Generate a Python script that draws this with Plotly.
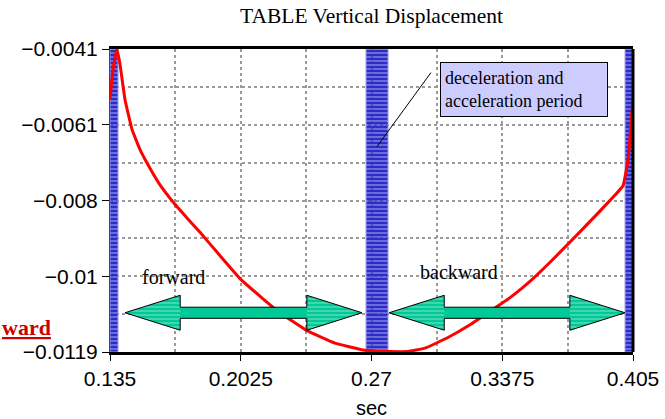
import plotly.graph_objects as go

# ---------------- data ----------------
x_range = [0.135, 0.405]
y_range = [-0.0119, -0.0041]
x_tickvals = [0.135, 0.2025, 0.27, 0.3375, 0.405]
x_ticktext = ["0.135", "0.2025", "0.27", "0.3375", "0.405"]
y_tickvals = [-0.0119, -0.00995, -0.008, -0.00605, -0.0041]
y_ticktext = ["\u22120.0119", "\u22120.01", "\u22120.008", "\u22120.0061", "\u22120.0041"]

time_s = [0.1350, 0.13655, 0.13861, 0.14016, 0.14274, 0.14636, 0.15049, 0.15462,
          0.16082, 0.16753, 0.17476, 0.18147, 0.19076, 0.20212, 0.21399, 0.22277,
          0.23671, 0.25117, 0.26562, 0.27285, 0.27956, 0.28834, 0.29763, 0.30899,
          0.32087, 0.33481, 0.34152, 0.35339, 0.36217, 0.37250, 0.38644, 0.39573,
          0.39986, 0.40244, 0.405]
displacement = [-0.00540, -0.00462, -0.00410, -0.00449, -0.00540, -0.00617, -0.00669, -0.00708,
                -0.00760, -0.00804, -0.00845, -0.00882, -0.00936, -0.01001, -0.01053, -0.01089,
                -0.01135, -0.01167, -0.01185, -0.01188, -0.01189, -0.01189, -0.01180, -0.01154,
                -0.01120, -0.01073, -0.01050, -0.01001, -0.00959, -0.00907, -0.00835, -0.00786,
                -0.00762, -0.00695, -0.00540]

# highlighted periods (start, end) in seconds
period_start = [0.1350, 0.26717, 0.40089]
period_end = [0.13913, 0.27853, 0.4050]

# motion arrows
forward_span = [0.14274, 0.26511]
backward_span = [0.27905, 0.40089]
arrow_level = -0.01089

forward_label = (0.16753, -0.00996)
backward_label = (0.31519, -0.00983)
callout_point = (0.27285, -0.00661)
callout_tail = (0.30125, -0.00467)
callout_box = (0.34875, -0.00514)

# ---------------- figure ----------------
fig = go.Figure()

fig.add_trace(go.Scatter(
    x=time_s, y=displacement, mode="lines",
    line=dict(color="#ff0000", width=3, shape="spline", smoothing=0.3),
    hoverinfo="skip", showlegend=False))

centers = [(a + b) / 2 for a, b in zip(period_start, period_end)]
widths = [b - a for a, b in zip(period_start, period_end)]
fig.add_trace(go.Bar(
    x=centers, width=widths,
    y=[y_range[1] - y_range[0]] * len(centers), base=[y_range[0]] * len(centers),
    marker=dict(color="rgba(0,0,0,0)",
                line=dict(color="#9a9af0", width=1),
                pattern=dict(shape="-", fgcolor="#2c2cc8", bgcolor="rgba(0,0,0,0)",
                             size=4, solidity=0.85, fillmode="replace")),
    hoverinfo="skip", showlegend=False))

HEAD_LEN = 0.0285
HEAD_HALF = 0.00045
BODY_HALF = 0.000143
GREEN = "#00c896"


def arrow_outline(x0, x1, yc):
    xs = [x0, x0 + HEAD_LEN, x0 + HEAD_LEN, x1 - HEAD_LEN, x1 - HEAD_LEN, x1,
          x1 - HEAD_LEN, x1 - HEAD_LEN, x0 + HEAD_LEN, x0 + HEAD_LEN, x0]
    ys = [yc, yc + HEAD_HALF, yc + BODY_HALF, yc + BODY_HALF, yc + HEAD_HALF, yc,
          yc - HEAD_HALF, yc - BODY_HALF, yc - BODY_HALF, yc - HEAD_HALF, yc]
    return xs, ys


def arrow_heads(x0, x1, yc):
    xs = [x0, x0 + HEAD_LEN, x0 + HEAD_LEN, x0, None,
          x1, x1 - HEAD_LEN, x1 - HEAD_LEN, x1]
    ys = [yc, yc + HEAD_HALF, yc - HEAD_HALF, yc, None,
          yc, yc + HEAD_HALF, yc - HEAD_HALF, yc]
    return xs, ys


for span in (forward_span, backward_span):
    ox, oy = arrow_outline(span[0], span[1], arrow_level)
    fig.add_trace(go.Scatter(x=ox, y=oy, mode="lines", fill="toself",
                             fillcolor=GREEN, line=dict(width=0, color=GREEN),
                             hoverinfo="skip", showlegend=False))
    hx, hy = arrow_heads(span[0], span[1], arrow_level)
    fig.add_trace(go.Scatter(x=hx, y=hy, mode="lines", fill="toself",
                             fillcolor="rgba(0,0,0,0)", line=dict(width=0),
                             fillpattern=dict(shape="-", fgcolor="white",
                                              bgcolor="rgba(0,0,0,0)", size=4,
                                              solidity=0.25),
                             hoverinfo="skip", showlegend=False))
    fig.add_trace(go.Scatter(x=ox, y=oy, mode="lines",
                             line=dict(width=1, color="black"),
                             hoverinfo="skip", showlegend=False))

serif = "Liberation Serif, Times New Roman, serif"
sans = "Liberation Sans, Arial, sans-serif"

fig.add_annotation(x=forward_label[0], y=forward_label[1], text="forward",
                   showarrow=False, font=dict(family=serif, size=20, color="black"))
fig.add_annotation(x=backward_label[0], y=backward_label[1], text="backward",
                   showarrow=False, font=dict(family=serif, size=20, color="black"))

# callout line
fig.add_annotation(x=callout_point[0], y=callout_point[1],
                   ax=callout_tail[0], ay=callout_tail[1], axref="x", ayref="y",
                   text="", showarrow=True, arrowhead=0, arrowwidth=1, arrowcolor="black")
# callout box
fig.add_annotation(x=callout_box[0], y=callout_box[1],
                   text="deceleration and<br>acceleration period",
                   showarrow=False, align="left", width=158, height=45,
                   bgcolor="#ccccff", bordercolor="black", borderwidth=1, borderpad=4,
                   font=dict(family=serif, size=18, color="black"))

# red label at the left edge (only its tail is visible in the original)
fig.add_annotation(xref="paper", yref="y", x=-0.2103, y=-0.01126, xanchor="left",
                   text="<b><u>ward</u></b>", showarrow=False,
                   font=dict(family=serif, size=22, color="#cc0000"))

fig.update_layout(
    width=665, height=419,
    margin=dict(l=110, r=32, t=49, b=67, autoexpand=False),
    paper_bgcolor="white", plot_bgcolor="white",
    showlegend=False,
    title=dict(text="TABLE Vertical Displacement", x=0.5, xref="paper",
               y=0.962, yanchor="middle", xanchor="center",
               font=dict(family=serif, size=21.5, color="black"), automargin=False),
    bargap=0,
)

grid_style = dict(gridcolor="#9a9a9a", gridwidth=2, griddash="dot")

fig.update_xaxes(
    range=x_range, tickmode="array", tickvals=x_tickvals, ticktext=x_ticktext,
    ticks="outside", ticklen=6, tickcolor="black", tickwidth=1,
    tickfont=dict(family=sans, size=21, color="black"),
    showline=True, linecolor="black", linewidth=3, mirror=True,
    showgrid=True, **grid_style,
    minor=dict(tick0=0.135, dtick=0.03375, showgrid=True, ticks="",
               gridcolor="#9a9a9a", gridwidth=2, griddash="dot"),
    zeroline=False, automargin=False,
    title=dict(text="sec", font=dict(family=sans, size=20, color="black"), standoff=12),
)
fig.update_yaxes(
    range=y_range, tickmode="array", tickvals=y_tickvals, ticktext=y_ticktext,
    ticks="outside", ticklen=7, tickcolor="black", tickwidth=1,
    tickfont=dict(family=sans, size=21, color="black"),
    showline=True, linecolor="#444", linewidth=1,
    showgrid=True, **grid_style,
    minor=dict(tick0=-0.0119, dtick=0.000975, showgrid=True, ticks="",
               gridcolor="#9a9a9a", gridwidth=2, griddash="dot"),
    zeroline=False, automargin=False,
)

# thick right frame line
fig.add_shape(type="line", xref="paper", yref="paper", x0=1, x1=1, y0=0, y1=1,
              line=dict(color="black", width=3), layer="above")

# remove the default page margin so the figure fills the window exactly
fig.write_html("out.html",
               config={"displayModeBar": False, "staticPlot": True},
               post_script="document.body.style.margin='0';document.body.style.overflow='hidden';")
